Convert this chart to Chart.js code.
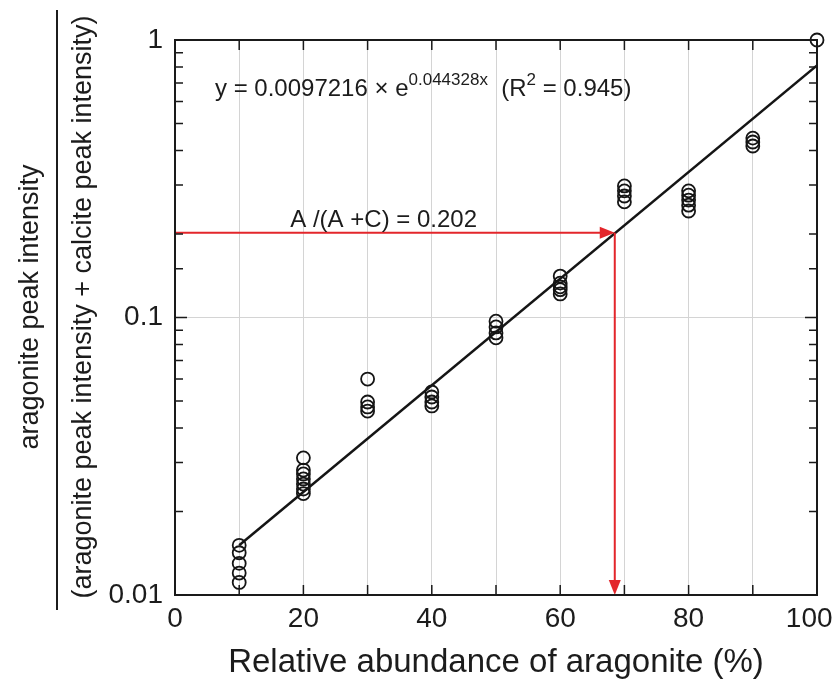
<!DOCTYPE html>
<html>
<head>
<meta charset="utf-8">
<script src="https://cdn.jsdelivr.net/npm/chart.js@4.4.1/dist/chart.umd.min.js"></script>
<style>
html, body { margin: 0; padding: 0; background: #fff; }
</style>
</head>
<body>
<canvas id="aragoniteChart" width="837" height="692"></canvas>
<script>
// measured ratios A/(A+C) at each relative abundance (%)
var abundanceLevels = [10, 20, 30, 40, 50, 60, 70, 80, 90, 100];
var ratioAt10 = [0.0151, 0.0142, 0.0130, 0.0120, 0.0111];
var ratioAt20 = [0.0312, 0.0282, 0.0273, 0.0262, 0.0251, 0.0241, 0.0232];
var ratioAt30 = [0.060, 0.0496, 0.0476, 0.0460];
var ratioAt40 = [0.0539, 0.0517, 0.0496, 0.0480];
var ratioAt50 = [0.097, 0.0925, 0.088, 0.0845];
var ratioAt60 = [0.141, 0.133, 0.129, 0.126, 0.1216];
var ratioAt70 = [0.298, 0.286, 0.274, 0.261];
var ratioAt80 = [0.286, 0.276, 0.265, 0.254, 0.242];
var ratioAt90 = [0.443, 0.429, 0.415];
var ratioAt100 = [1.0];

// regression line ends (y = 0.0097216 e^0.044328x)
var fitX = [10, 100];
var fitY = [0.0151, 0.81];

// read-off example
var markerRatio = 0.202;
var markerAbundance = 68.5;

var xTickLabels = [0, 20, 40, 60, 80, 100];
var yTickLabels = [0.01, 0.1, 1];

var FONT = "'Liberation Sans', Arial, sans-serif";
var TEXT = "#1c1c1c";

var ratioGroups = [ratioAt10, ratioAt20, ratioAt30, ratioAt40, ratioAt50,
                   ratioAt60, ratioAt70, ratioAt80, ratioAt90, ratioAt100];
var points = [];
ratioGroups.forEach(function(group, i) {
    group.forEach(function(v) {
        points.push({ x: abundanceLevels[i], y: v });
    });
});
var fitPoints = fitX.map(function(x, i) { return { x: x, y: fitY[i] }; });

function isMajorLog(v) {
    var l = Math.log10(v);
    return Math.abs(l - Math.round(l)) < 1e-6;
}

function arrowHead(ctx, x, y, dir) {
    var len = 15, half = 6;
    ctx.beginPath();
    if (dir === "right") {
        ctx.moveTo(x, y);
        ctx.lineTo(x - len, y - half);
        ctx.lineTo(x - len, y + half);
    } else {
        ctx.moveTo(x, y);
        ctx.lineTo(x - half, y - len);
        ctx.lineTo(x + half, y - len);
    }
    ctx.closePath();
    ctx.fill();
}

var decorPlugin = {
    id: "decor",
    afterDatasetsDraw: function(chart) {
        var ctx = chart.ctx;
        var area = chart.chartArea;
        var xs = chart.scales.x, ys = chart.scales.y;
        ctx.save();

        // red read-off arrows
        var ay = ys.getPixelForValue(markerRatio);
        var ax = xs.getPixelForValue(markerAbundance);
        ctx.strokeStyle = "#e3262b";
        ctx.fillStyle = "#e3262b";
        ctx.lineWidth = 2;
        ctx.beginPath();
        ctx.moveTo(area.left, ay);
        ctx.lineTo(ax - 12, ay);
        ctx.moveTo(ax, ay);
        ctx.lineTo(ax, area.bottom - 12);
        ctx.stroke();
        arrowHead(ctx, ax, ay, "right");
        arrowHead(ctx, ax, area.bottom, "down");

        ctx.fillStyle = TEXT;
        ctx.font = "24px " + FONT;
        ctx.textAlign = "center";
        ctx.textBaseline = "alphabetic";
        ctx.fillText("A /(A +C) = 0.202", xs.getPixelForValue(32.5), ay - 6);

        // frame
        ctx.strokeStyle = "#1a1a1a";
        ctx.lineWidth = 2;
        ctx.strokeRect(area.left, area.top, area.right - area.left, area.bottom - area.top);

        // inward ticks
        ctx.lineWidth = 1.5;
        ctx.beginPath();
        xs.ticks.forEach(function(t) {
            var px = xs.getPixelForValue(t.value);
            ctx.moveTo(px, area.bottom);
            ctx.lineTo(px, area.bottom - 10);
            ctx.moveTo(px, area.top);
            ctx.lineTo(px, area.top + 10);
        });
        ys.ticks.forEach(function(t) {
            var py = ys.getPixelForValue(t.value);
            var len = isMajorLog(t.value) ? 12 : 8;
            ctx.moveTo(area.left, py);
            ctx.lineTo(area.left + len, py);
            ctx.moveTo(area.right, py);
            ctx.lineTo(area.right - len, py);
        });
        ctx.stroke();

        // fitted equation with superscripts
        var x = 215, base = 96;
        ctx.textAlign = "left";
        ctx.fillStyle = TEXT;
        var parts = [
            ["y = 0.0097216 \u00d7 e", false],
            ["0.044328x", true],
            ["  (R", false],
            ["2", true],
            [" = 0.945)", false]
        ];
        parts.forEach(function(p) {
            ctx.font = (p[1] ? "17px " : "24px ") + FONT;
            ctx.fillText(p[0], x, p[1] ? base - 11 : base);
            x += ctx.measureText(p[0]).width;
        });

        // y-axis title as a fraction
        var cy = 307;
        ctx.save();
        ctx.rotate(-Math.PI / 2);
        ctx.font = "27px " + FONT;
        ctx.textAlign = "center";
        ctx.textBaseline = "middle";
        ctx.fillStyle = TEXT;
        ctx.fillText("aragonite peak intensity", -cy, 31);
        ctx.fillText("(aragonite peak intensity + calcite peak intensity)", -cy, 84);
        ctx.restore();
        ctx.strokeStyle = TEXT;
        ctx.lineWidth = 2;
        ctx.beginPath();
        ctx.moveTo(57, 10);
        ctx.lineTo(57, 610);
        ctx.stroke();

        ctx.restore();
    }
};

var ctxAragonite = document.getElementById("aragoniteChart");

var aragoniteChart = new Chart(ctxAragonite, {
    type: "scatter",
    data: {
        datasets: [
            {
                label: "Measured",
                data: points,
                pointStyle: "circle",
                pointRadius: 6.5,
                pointBorderWidth: 1.8,
                borderColor: "#151515",
                backgroundColor: "rgba(255,255,255,0)",
                clip: false
            },
            {
                label: "Fit",
                type: "line",
                data: fitPoints,
                borderColor: "#151515",
                borderWidth: 2.5,
                pointRadius: 0,
                fill: false
            }
        ]
    },
    options: {
        responsive: false,
        animation: false,
        devicePixelRatio: 1,
        layout: { padding: { left: 0, right: 20, top: 40, bottom: 0 } },
        plugins: {
            legend: { display: false },
            tooltip: { enabled: false }
        },
        scales: {
            x: {
                type: "linear",
                min: 0,
                max: 100,
                afterFit: function(s) {
                    s.height = 97;
                    s.paddingLeft = 0;
                    s.paddingRight = 0;
                },
                border: { display: false },
                grid: {
                    drawTicks: false,
                    color: function(c) {
                        var v = c.tick && c.tick.value;
                        return (v > 0 && v < 100) ? "#d4d4d4" : "rgba(0,0,0,0)";
                    },
                    lineWidth: 1
                },
                ticks: {
                    stepSize: 10,
                    autoSkip: false,
                    maxRotation: 0,
                    padding: 7,
                    color: TEXT,
                    font: { family: FONT, size: 28 },
                    callback: function(v) {
                        if (xTickLabels.indexOf(v) < 0) return "";
                        // last label sits inside the canvas edge, as in the original
                        return v === 100 ? "100\u2007" : String(v);
                    }
                },
                title: {
                    display: true,
                    text: "Relative abundance of aragonite (%)",
                    color: TEXT,
                    font: { family: FONT, size: 33 },
                    padding: { top: 0, bottom: 9 }
                }
            },
            y: {
                type: "logarithmic",
                min: 0.01,
                max: 1,
                afterFit: function(s) {
                    s.width = 175;
                    s.paddingTop = 0;
                    s.paddingBottom = 0;
                },
                border: { display: false },
                grid: {
                    drawTicks: false,
                    color: function(c) {
                        var v = c.tick && c.tick.value;
                        return (v && isMajorLog(v) && v > 0.011 && v < 0.99) ? "#d4d4d4" : "rgba(0,0,0,0)";
                    },
                    lineWidth: 1
                },
                ticks: {
                    autoSkip: false,
                    padding: 12,
                    color: TEXT,
                    font: { family: FONT, size: 28 },
                    callback: function(v) {
                        for (var i = 0; i < yTickLabels.length; i++) {
                            if (Math.abs(v - yTickLabels[i]) < 1e-9) return String(yTickLabels[i]);
                        }
                        return "";
                    }
                }
            }
        }
    },
    plugins: [decorPlugin]
});
</script>
</body>
</html>
